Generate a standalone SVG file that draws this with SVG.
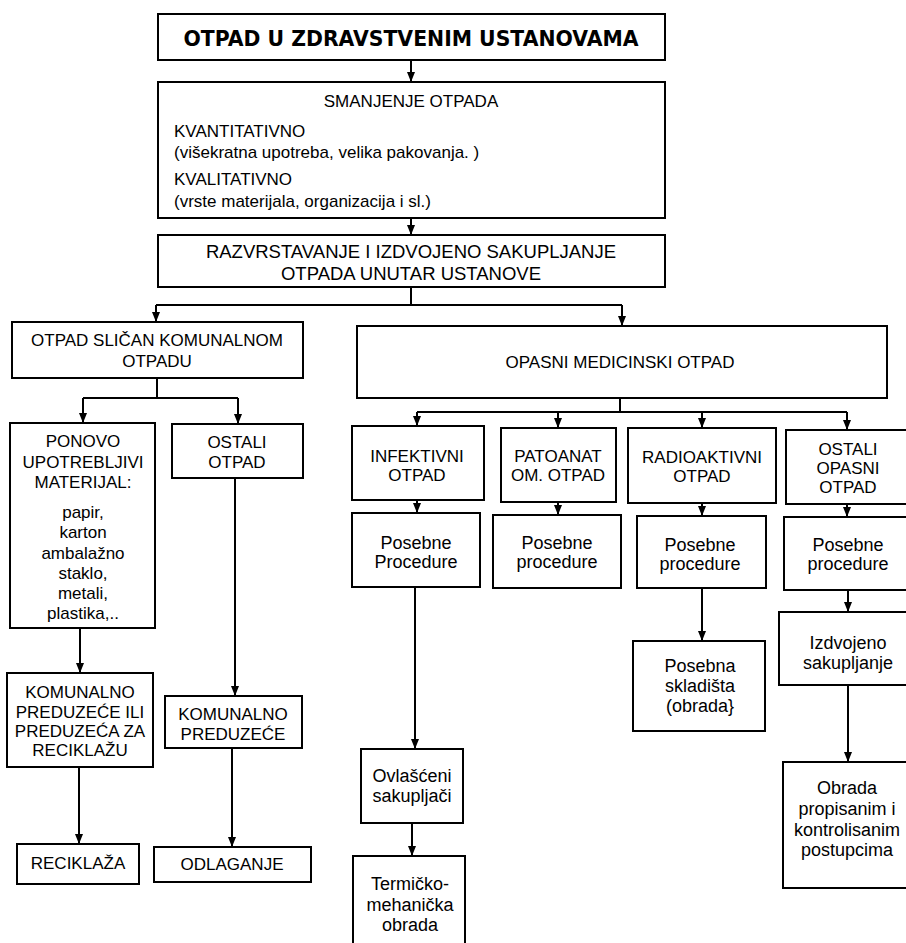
<svg xmlns="http://www.w3.org/2000/svg" width="906" height="943" viewBox="0 0 906 943">
<defs>
<style>
.box{fill:#fff;stroke:#000;stroke-width:2}
.t{font-family:"Liberation Sans",Arial,sans-serif;font-size:17px;fill:#000;text-anchor:middle}
.s{text-anchor:start}
.m{font-size:18px}
.big{font-size:18.5px}
.title{font-family:"DejaVu Sans",sans-serif;font-weight:bold;font-size:20.4px;fill:#000;text-anchor:middle}
.c{fill:none;stroke:#000;stroke-width:2}
</style>
<marker id="ah" viewBox="0 0 10 8" refX="10" refY="4" markerWidth="10" markerHeight="8" markerUnits="userSpaceOnUse" orient="auto">
<path d="M0,0 L10,4 L0,8 z" fill="#000"/>
</marker>
</defs>
<rect width="906" height="943" fill="#fff"/>

<g id="connectors">
<path class="c" d="M411,60 V82" marker-end="url(#ah)"/>
<path class="c" d="M411,218 V235" marker-end="url(#ah)"/>
<path class="c" d="M411,287 V305 M156,305 H622"/>
<path class="c" d="M156,305 V322" marker-end="url(#ah)"/>
<path class="c" d="M622,305 V326" marker-end="url(#ah)"/>
<path class="c" d="M157,378 V398 M83,398 H238"/>
<path class="c" d="M83,398 V423" marker-end="url(#ah)"/>
<path class="c" d="M238,398 V424" marker-end="url(#ah)"/>
<path class="c" d="M80,628 V673" marker-end="url(#ah)"/>
<path class="c" d="M235,478 V696" marker-end="url(#ah)"/>
<path class="c" d="M79,767 V844" marker-end="url(#ah)"/>
<path class="c" d="M232,748 V847" marker-end="url(#ah)"/>
<path class="c" d="M620,398 V412 M417,412 H847"/>
<path class="c" d="M417,412 V426" marker-end="url(#ah)"/>
<path class="c" d="M558,412 V428" marker-end="url(#ah)"/>
<path class="c" d="M702,412 V428" marker-end="url(#ah)"/>
<path class="c" d="M847,412 V430" marker-end="url(#ah)"/>
<path class="c" d="M417,500 V513" marker-end="url(#ah)"/>
<path class="c" d="M558,502 V515" marker-end="url(#ah)"/>
<path class="c" d="M702,503 V516" marker-end="url(#ah)"/>
<path class="c" d="M847,504 V517" marker-end="url(#ah)"/>
<path class="c" d="M415,587 V749" marker-end="url(#ah)"/>
<path class="c" d="M412,823 V856" marker-end="url(#ah)"/>
<path class="c" d="M702,588 V641" marker-end="url(#ah)"/>
<path class="c" d="M848,590 V612" marker-end="url(#ah)"/>
<path class="c" d="M848,685 V762" marker-end="url(#ah)"/>
</g>

<g id="n-title">
<rect class="box" x="158" y="14" width="507" height="46"/>
<text class="title" x="411" y="46">OTPAD U ZDRAVSTVENIM USTANOVAMA</text>
</g>

<g id="n-smanjenje">
<rect class="box" x="158" y="82" width="507" height="136"/>
<text class="t" x="411" y="107">SMANJENJE OTPADA</text>
<text class="t s" x="174" y="137">KVANTITATIVNO</text>
<text class="t s" x="174" y="158">(višekratna upotreba, velika pakovanja. )</text>
<text class="t s" x="174" y="185">KVALITATIVNO</text>
<text class="t s" x="174" y="207">(vrste materijala, organizacija i sl.)</text>
</g>

<g id="n-razvrstavanje">
<rect class="box" x="158" y="235" width="507" height="52"/>
<text class="t big" x="411" y="258">RAZVRSTAVANJE I IZDVOJENO SAKUPLJANJE</text>
<text class="t big" x="411" y="280">OTPADA UNUTAR USTANOVE</text>
</g>

<g id="n-komunalni">
<rect class="box" x="12" y="322" width="291" height="56"/>
<text class="t" x="157" y="346">OTPAD SLIČAN KOMUNALNOM</text>
<text class="t" x="157" y="367">OTPADU</text>
</g>

<g id="n-ponovo">
<rect class="box" x="10" y="423" width="145" height="205"/>
<text class="t" x="83" y="447">PONOVO</text>
<text class="t" x="83" y="468">UPOTREBLJIVI</text>
<text class="t" x="83" y="488">MATERIJAL:</text>
<text class="t" x="83" y="518">papir,</text>
<text class="t" x="83" y="538">karton</text>
<text class="t" x="83" y="559">ambalažno</text>
<text class="t" x="83" y="579">staklo,</text>
<text class="t" x="83" y="599">metali,</text>
<text class="t" x="83" y="619">plastika,..</text>
</g>

<g id="n-ostali">
<rect class="box" x="172" y="424" width="131" height="54"/>
<text class="t" x="237" y="448">OSTALI</text>
<text class="t" x="237" y="468">OTPAD</text>
</g>

<g id="n-komunalno-ili">
<rect class="box" x="7" y="673" width="146" height="94"/>
<text class="t" x="80" y="698">KOMUNALNO</text>
<text class="t" x="80" y="718">PREDUZEĆE ILI</text>
<text class="t" x="80" y="737">PREDUZEĆA ZA</text>
<text class="t" x="80" y="756">RECIKLAŽU</text>
</g>

<g id="n-komunalno">
<rect class="box" x="165" y="696" width="137" height="52"/>
<text class="t" x="233" y="720">KOMUNALNO</text>
<text class="t" x="233" y="740">PREDUZEĆE</text>
</g>

<g id="n-reciklaza">
<rect class="box" x="17" y="844" width="122" height="40"/>
<text class="t" x="78" y="869">RECIKLAŽA</text>
</g>

<g id="n-odlaganje">
<rect class="box" x="154" y="847" width="157" height="35"/>
<text class="t" x="232" y="870">ODLAGANJE</text>
</g>

<g id="n-opasni">
<rect class="box" x="357" y="326" width="530" height="72"/>
<text class="t" x="620" y="368">OPASNI MEDICINSKI OTPAD</text>
</g>

<g id="n-infektivni">
<rect class="box" x="352" y="426" width="132" height="74"/>
<text class="t" x="417" y="462">INFEKTIVNI</text>
<text class="t" x="417" y="481">OTPAD</text>
</g>

<g id="n-patoanat">
<rect class="box" x="501" y="428" width="115" height="74"/>
<text class="t" x="558" y="462">PATOANAT</text>
<text class="t" x="558" y="481">OM. OTPAD</text>
</g>

<g id="n-radioaktivni">
<rect class="box" x="628" y="428" width="148" height="75"/>
<text class="t" x="702" y="463">RADIOAKTIVNI</text>
<text class="t" x="702" y="482">OTPAD</text>
</g>

<g id="n-ostali-opasni">
<rect class="box" x="786" y="430" width="130" height="74"/>
<text class="t" x="848" y="455">OSTALI</text>
<text class="t" x="848" y="474">OPASNI</text>
<text class="t" x="848" y="493">OTPAD</text>
</g>

<g id="n-posebne-inf">
<rect class="box" x="352" y="513" width="128" height="74"/>
<text class="t m" x="416" y="549">Posebne</text>
<text class="t m" x="416" y="568">Procedure</text>
</g>

<g id="n-posebne-pat">
<rect class="box" x="493" y="515" width="128" height="73"/>
<text class="t m" x="557" y="549">Posebne</text>
<text class="t m" x="557" y="568">procedure</text>
</g>

<g id="n-posebne-rad">
<rect class="box" x="637" y="516" width="129" height="72"/>
<text class="t m" x="700" y="551">Posebne</text>
<text class="t m" x="700" y="570">procedure</text>
</g>

<g id="n-posebne-ost">
<rect class="box" x="784" y="517" width="130" height="73"/>
<text class="t m" x="848" y="551">Posebne</text>
<text class="t m" x="848" y="570">procedure</text>
</g>

<g id="n-ovlasceni">
<rect class="box" x="361" y="749" width="102" height="74"/>
<text class="t m" x="412" y="782">Ovlašćeni</text>
<text class="t m" x="412" y="802">sakupljači</text>
</g>

<g id="n-termicko">
<rect class="box" x="353" y="856" width="112" height="100"/>
<text class="t m" x="410" y="890">Termičko-</text>
<text class="t m" x="410" y="911">mehanička</text>
<text class="t m" x="410" y="931">obrada</text>
</g>

<g id="n-skladista">
<rect class="box" x="633" y="641" width="132" height="90"/>
<text class="t m" x="700" y="672">Posebna</text>
<text class="t m" x="700" y="692">skladišta</text>
<text class="t m" x="700" y="712">(obrada}</text>
</g>

<g id="n-izdvojeno">
<rect class="box" x="779" y="612" width="140" height="73"/>
<text class="t m" x="848" y="649">Izdvojeno</text>
<text class="t m" x="848" y="669">sakupljanje</text>
</g>

<g id="n-obrada">
<rect class="box" x="783" y="762" width="140" height="126"/>
<text class="t m" x="847" y="794">Obrada</text>
<text class="t m" x="847" y="815">propisanim i</text>
<text class="t m" x="847" y="836">kontrolisanim</text>
<text class="t m" x="847" y="856">postupcima</text>
</g>
</svg>
